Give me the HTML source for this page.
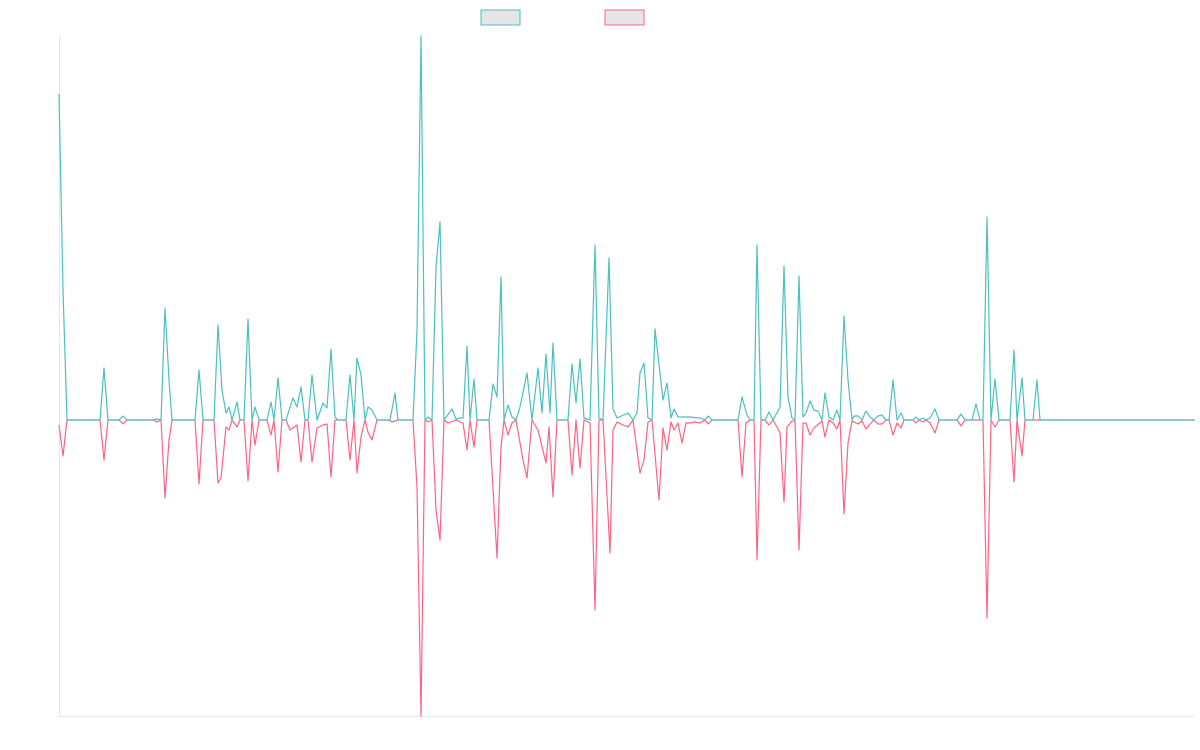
<!DOCTYPE html>
<html><head><meta charset="utf-8"><style>
html,body{margin:0;padding:0;background:#fff;width:1200px;height:750px;overflow:hidden}
svg{display:block}
</style></head><body>
<svg width="1200" height="750" viewBox="0 0 1200 750" xmlns="http://www.w3.org/2000/svg">
<line x1="59.5" y1="36" x2="59.5" y2="716" stroke="#e5e5e5" stroke-width="1"/>
<line x1="59" y1="716.5" x2="1195" y2="716.5" stroke="#e5e5e5" stroke-width="1"/>
<rect x="481" y="10" width="39" height="15" fill="#e5e5e5" stroke="#4bc0c0" stroke-width="1"/>
<rect x="605" y="10" width="39" height="15" fill="#e5e5e5" stroke="#ff6384" stroke-width="1"/>
<polyline fill="none" stroke="#ff6384" stroke-width="1.2" stroke-linejoin="round" points="59,425 63,456 67,420 100,420 104,460 108,420 119,420 123,424 127,420 153,420 157,422 161,420 165,498 169,440 172,420 195,420 199,484 203,420 214,420 218,483 221,478 226,427 229,430 232,420 237,427 240,420 244,420 248,481 252,420 255,445 259,420 267,420 271,435 274,420 278,472 282,420 286,420 290,430 297,425 301,462 305,420 308,420 312,462 317,428 323,425 327,424 331,477 335,420 346,420 350,460 354,420 357,473 361,437 365,420 368,432 372,440 377,420 388,420 392,422 398,420 413,420 417,487 421,716 425,420 428,422 432,420 436,510 440,540 444,420 448,423 456,420 463,423 467,450 470,420 474,447 477,420 489,420 497,558 501,447 504,420 508,435 512,423 516,420 523,460 527,478 532,420 538,430 546,463 549,427 553,497 557,420 568,420 572,475 576,420 580,468 584,420 590,423 595,610 599,420 603,420 610,553 613,430 617,422 623,425 628,427 633,420 640,473 644,460 648,422 652,420 659,500 663,428 667,450 671,422 674,430 678,423 682,443 686,423 690,423 695,422 700,423 705,420 708,424 712,420 738,420 742,477 746,423 750,420 754,420 757,560 761,420 765,420 769,425 773,420 777,427 780,433 784,502 787,427 792,421 795,421 799,550 803,423 806,423 810,435 814,428 822,421 825,437 829,420 833,423 837,429 840,420 844,514 848,443 852,421 858,424 862,421 866,429 870,424 874,420 878,424 882,424 886,420 889,420 893,435 897,423 901,428 904,420 913,420 916,423 919,420 923,422 926,420 930,423 935,433 939,420 957,420 961,426 965,420 983,420 987,618 991,420 995,427 999,420 1010,420 1014,482 1017,420 1022,456 1025,420 1040,420 1195,420"/>
<polyline fill="none" stroke="#4bc0c0" stroke-width="1.2" stroke-linejoin="round" points="59,94 63,290 67,420 100,420 104,368 108,420 119,420 123,416 127,420 153,420 157,419 161,420 165,308 169,380 172,420 195,420 199,370 203,420 214,420 218,325 222,390 226,413 229,407 232,420 237,402 240,420 244,420 248,319 252,420 255,407 259,420 267,420 271,402 274,420 278,378 282,420 286,420 293,398 297,407 301,387 305,420 308,420 312,375 317,420 323,403 327,408 331,349 335,417 338,420 346,420 350,375 354,420 357,358 361,375 365,420 368,407 372,410 377,420 390,420 395,393 398,420 413,420 417,330 421,36 425,420 428,417 432,420 436,267 440,222 444,420 452,409 456,419 460,418 463,418 467,346 470,420 474,379 477,420 489,420 493,384 497,397 501,277 504,420 508,405 512,417 516,420 520,407 527,373 532,420 538,368 542,413 546,354 550,413 553,343 557,420 568,420 572,364 576,403 580,359 584,418 590,420 595,245 599,418 603,420 609,258 613,409 617,418 628,413 633,420 637,413 640,373 644,363 648,418 652,420 655,329 660,373 663,400 667,383 671,418 674,409 678,417 690,417 700,418 705,420 708,416 712,420 738,420 742,397 747,415 750,420 754,420 757,245 761,420 765,420 769,412 773,420 780,407 784,266 788,397 792,418 795,420 799,276 803,417 806,413 810,401 814,410 818,411 822,420 825,393 829,417 833,420 837,410 840,420 844,316 848,380 852,420 854,416 858,416 862,420 866,411 870,417 874,420 878,416 882,415 886,420 889,420 893,380 897,420 901,413 904,420 913,420 916,417 919,420 923,418 926,420 930,418 935,409 939,420 957,420 961,414 965,420 972,420 976,404 980,420 983,420 987,217 991,420 995,379 999,420 1010,420 1014,350 1017,420 1022,378 1025,420 1033,420 1037,380 1040,420 1195,420"/>
</svg>
</body></html>
